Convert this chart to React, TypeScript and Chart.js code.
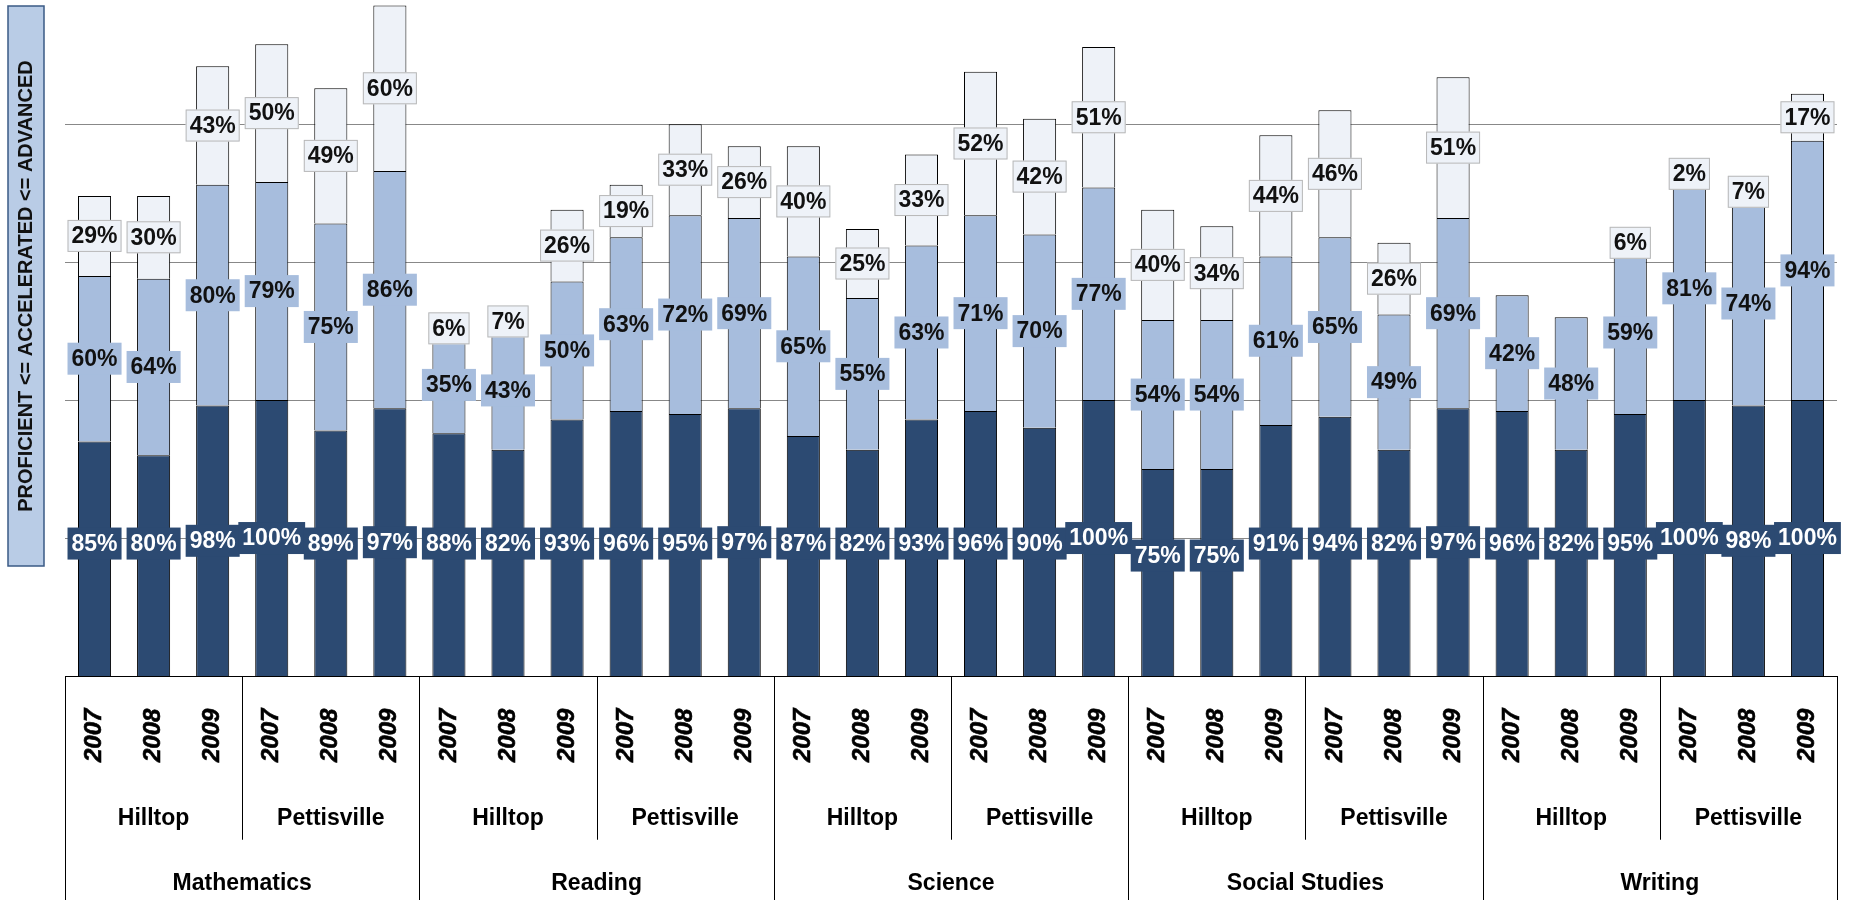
import React, { useEffect, useRef } from "react";
import { Chart, registerables } from "chart.js";
Chart.register(...registerables);

const subjects = ["Mathematics", "Reading", "Science", "Social Studies", "Writing"];
const schools = ["Hilltop", "Pettisville"];
const years = ["2007", "2008", "2009"];
const proficient = [85, 80, 98, 100, 89, 97, 88, 82, 93, 96, 95, 97, 87, 82, 93, 96, 90, 100, 75, 75, 91, 94, 82, 97, 96, 82, 95, 100, 98, 100];
const accelerated = [60, 64, 80, 79, 75, 86, 35, 43, 50, 63, 72, 69, 65, 55, 63, 71, 70, 77, 54, 54, 61, 65, 49, 69, 42, 48, 59, 81, 74, 94];
const advanced = [29, 30, 43, 50, 49, 60, 6, 7, 26, 19, 33, 26, 40, 25, 33, 52, 42, 51, 40, 34, 44, 46, 26, 51, 0, 0, 6, 2, 7, 17];

const labels: string[] = [];
subjects.forEach(() => schools.forEach(() => years.forEach((y) => labels.push(y))));

const FONT = "Arial, 'Liberation Sans', sans-serif";
const S = 1851 / 1560;
const FS = Math.round(19 * S);

const plugin = {
  id: "custom",
  beforeDatasetsDraw(chart: any) {
    const ctx = chart.ctx;
    const y = chart.scales.y;
    const { left, right } = chart.chartArea;
    ctx.save();
    ctx.strokeStyle = "#888";
    ctx.lineWidth = 1;
    [50, 100, 150, 200].forEach((v) => {
      const py = Math.round(y.getPixelForValue(v)) + 0.5;
      ctx.beginPath(); ctx.moveTo(left, py); ctx.lineTo(right, py); ctx.stroke();
    });
    ctx.restore();
  },
  afterDatasetsDraw(chart: any) {
    const ctx = chart.ctx;
    const x = chart.scales.x;
    const y = chart.scales.y;
    const { left, right, bottom } = chart.chartArea;
    ctx.save();
    ctx.strokeStyle = "#000";
    ctx.lineWidth = 1;
    ctx.beginPath(); ctx.moveTo(left, bottom + 0.5); ctx.lineTo(right, bottom + 0.5); ctx.stroke();
    const step = (right - left) / labels.length;
    for (let i = 0; i <= labels.length; i += 3) {
      const px = Math.round(left + i * step) + 0.5;
      const long = i % 6 === 0;
      ctx.beginPath(); ctx.moveTo(px, bottom); ctx.lineTo(px, long ? 900 : bottom + 138 * S); ctx.stroke();
    }
    ctx.fillStyle = "#000";
    ctx.textAlign = "center";
    ctx.textBaseline = "middle";
    labels.forEach((l, i) => {
      const px = x.getPixelForValue(i);
      ctx.save();
      ctx.translate(px, bottom + 50 * S);
      ctx.rotate(-Math.PI / 2);
      ctx.font = `italic bold ${FS + 1}px ${FONT}`;
      ctx.lineWidth = 0.6;
      ctx.strokeStyle = "#000";
      ctx.fillText(l, 0, 0);
      ctx.strokeText(l, 0, 0);
      ctx.restore();
    });
    ctx.font = `bold ${FS}px ${FONT}`;
    for (let g = 0; g < 10; g++) {
      const px = left + (g * 3 + 1.5) * step;
      ctx.fillText(schools[g % 2], px, bottom + 120 * S);
    }
    for (let s = 0; s < 5; s++) {
      const px = left + (s * 6 + 3) * step;
      ctx.fillText(subjects[s], px, bottom + 175 * S);
    }
    const drawLabel = (txt: string, cx: number, cy: number, bg: string, fg: string, border?: string) => {
      ctx.font = `bold ${FS}px ${FONT}`;
      const w = ctx.measureText(txt).width + 8;
      const h = 32;
      ctx.fillStyle = bg;
      ctx.fillRect(cx - w / 2, cy - h / 2, w, h);
      if (border) { ctx.strokeStyle = border; ctx.lineWidth = 1; ctx.strokeRect(cx - w / 2 + 0.5, cy - h / 2 + 0.5, w - 1, h - 1); }
      ctx.fillStyle = fg;
      ctx.fillText(txt, cx, cy + 1);
    };
    labels.forEach((_, i) => {
      const px = x.getPixelForValue(i);
      const p = proficient[i], a = accelerated[i], d = advanced[i];
      const dc = (y.getPixelForValue(0) + y.getPixelForValue(p)) / 2;
      drawLabel(p + "%", px, Math.min(dc, y.getPixelForValue(48)) + (p < 80 ? 12 : 0), "#2C4A72", "#fff");
      drawLabel(a + "%", px, (y.getPixelForValue(p) + y.getPixelForValue(p + a)) / 2, "#A7BDDD", "#111");
      if (d > 0) drawLabel(d + "%", px, (y.getPixelForValue(p + a) + y.getPixelForValue(p + a + d)) / 2, "#EEF2F8", "#111", "#B8B8B8");
    });
    ctx.fillStyle = "#B9CCE6";
    ctx.fillRect(8, 6, 36, 560);
    ctx.strokeStyle = "#3A5A85";
    ctx.lineWidth = 1.5;
    ctx.strokeRect(8, 6, 36, 560);
    ctx.save();
    ctx.translate(26, 286);
    ctx.rotate(-Math.PI / 2);
    ctx.fillStyle = "#111";
    ctx.font = `bold 20px ${FONT}`;
    ctx.fillText("PROFICIENT <= ACCELERATED <= ADVANCED", 0, 0);
    ctx.restore();
    ctx.restore();
  },
};

export default function App() {
  const ref = useRef<HTMLCanvasElement>(null);
  useEffect(() => {
    document.body.style.margin = "0";
    const mk = (data: number[], color: string) => ({
      data, backgroundColor: color, borderColor: "#000", borderWidth: 1,
      barPercentage: 0.56, categoryPercentage: 1,
    });
    const chart = new Chart(ref.current!, {
      type: "bar",
      data: {
        labels,
        datasets: [mk(proficient, "#2C4A72"), mk(accelerated, "#A7BDDD"), mk(advanced, "#EEF2F8")],
      },
      options: {
        animation: false,
        responsive: false,
        devicePixelRatio: 1,
        layout: { padding: { left: 65, right: 14, top: 0, bottom: 224 } },
        plugins: { legend: { display: false }, tooltip: { enabled: false } },
        scales: {
          x: { stacked: true, display: false },
          y: { stacked: true, display: false, min: 0, max: 245 },
        },
      },
      plugins: [plugin],
    });
    return () => chart.destroy();
  }, []);
  return <canvas ref={ref} width={1851} height={900} style={{ display: "block" }} />;
}
